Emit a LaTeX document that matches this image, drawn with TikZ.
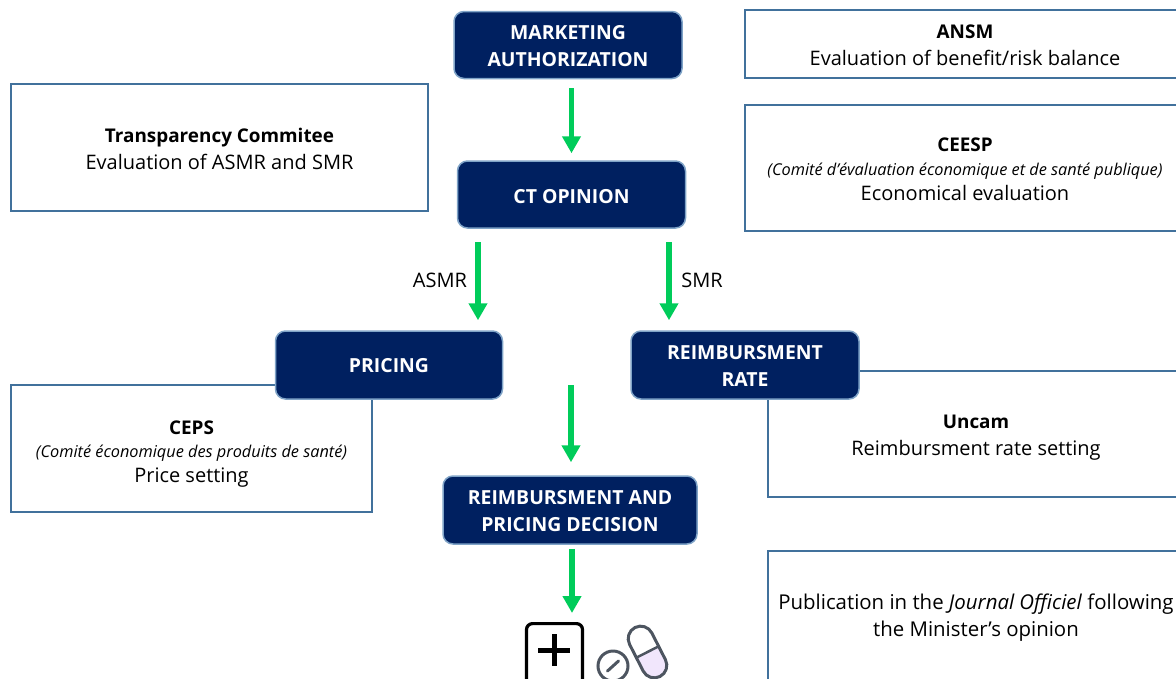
\documentclass[tikz,border=0pt]{standalone}
\usepackage{fontspec}
\setmainfont{Open Sans}
\usetikzlibrary{arrows.meta}
\definecolor{navy}{HTML}{002060}
\definecolor{edgeblue}{HTML}{41719C}
\definecolor{boxedge}{HTML}{7FA3C7}
\definecolor{arrowgreen}{HTML}{00CC5A}
\definecolor{pillgray}{HTML}{4D5560}
\definecolor{lav}{HTML}{F1E6FC}
\newcommand{\bodyfs}{\fontsize{20}{27}\selectfont}
\newcommand{\pubfs}{\fontsize{20.4}{27}\selectfont}
\newcommand{\smallfs}{\fontsize{16.3}{20}\selectfont\itshape}
\newcommand{\headfs}{\fontsize{18.9}{27}\selectfont\bfseries}
\newcommand{\tg}[1]{\rule{0pt}{#1pt}}
\tikzset{
  px/.style={x=1pt,y=-1pt},
  stage/.style={draw=boxedge,line width=1.5pt,fill=navy,rounded corners=10pt,text=white,align=center,inner sep=0pt,
    font=\fontsize{19.4}{27}\selectfont\bfseries},
  info/.style={draw=edgeblue,line width=1.4pt,fill=white,align=center,inner sep=0pt,text=black,font=\bodyfs},
  flow/.style={draw=arrowgreen,line width=5.5pt,-{Triangle[length=17pt,width=18pt]}},
  edgelabel/.style={font=\bodyfs,inner sep=0pt},
  pillline/.style={draw=pillgray,line width=3pt,line cap=round},
}
\begin{document}
\begin{tikzpicture}[px]
\useasboundingbox (0,0) rectangle (1176,678);
\clip (0,0) rectangle (1176,678);
% information boxes
\node[info,minimum width=440pt,minimum height=68pt] (ansm) at (965,44) {\tg{16}{\headfs ANSM}\\Evaluation of benefit/risk balance};
\node[info,minimum width=440pt,minimum height=126pt] (ceesp) at (965,168) {\tg{16}{\headfs CEESP}\\[-3pt]{\smallfs (Comité d’évaluation économique et de santé publique)}\\[-2pt]Economical evaluation};
\node[info,minimum width=417pt,minimum height=127pt] (ct-info) at (219.5,147.5) {\tg{18}{\headfs Transparency Commitee}\\Evaluation of ASMR and SMR};
\node[info,minimum width=361pt,minimum height=127pt] (ceps) at (191.5,448.5) {\tg{25}{\headfs CEPS}\\[-4pt]{\smallfs (Comité économique des produits de santé)}\\[-2pt]Price setting};
\node[info,minimum width=416pt,minimum height=126pt] (uncam) at (976,434) {\tg{21}{\headfs Uncam}\\Reimbursment rate setting};
\node[info,minimum width=416pt,minimum height=130pt,font=\pubfs] (pub) at (976,616) {\tg{18}Publication in the \textit{Journal Officiel} following\\the Minister’s opinion};
% stages
\node[stage,minimum width=228pt,minimum height=67pt] (ma) at (568,45) {\tg{16}MARKETING\\AUTHORIZATION};
\node[stage,minimum width=228pt,minimum height=67pt] (ct) at (571.5,194.5) {\tg{18}CT OPINION};
\node[stage,minimum width=227pt,minimum height=68pt] (pricing) at (389,365) {\tg{16}PRICING};
\node[stage,minimum width=228pt,minimum height=68pt] (reimb) at (745,365) {\tg{15}REIMBURSMENT\\RATE};
\node[stage,minimum width=254pt,minimum height=68pt] (decision) at (570,510) {\tg{16}REIMBURSMENT AND\\PRICING DECISION};
% icon
\node[draw=black,line width=3.2pt,rounded corners=6pt,minimum width=56pt,minimum height=70pt,inner sep=0pt,anchor=north] (plusbox) at (554.5,622) {};
\draw[line width=5pt,black] (538,650) -- (570,650) (554,634) -- (554,666);
\node[circle,pillline,minimum size=30pt,inner sep=0pt] (tablet) at (613,666) {};
\draw[pillline] (607.5,671) -- (618.5,661);
\begin{scope}[shift={(647.5,652)},rotate=27]
  \fill[lav] (-12.5,0) -- (12.5,0) -- (12.5,15) arc[start angle=0,end angle=-180,radius=12.5,y radius=-12.5] -- cycle;
  \draw[pillline] (-12.5,-15) arc[start angle=180,end angle=0,radius=12.5,y radius=-12.5] -- (12.5,15) arc[start angle=0,end angle=-180,radius=12.5,y radius=-12.5] -- cycle;
  \draw[pillline,line cap=butt,line width=2.5pt] (-12.5,0) -- (12.5,0);
\end{scope}
\coordinate (icontop) at (572,622);
\coordinate (midstart) at (571,385);
% arrows
\draw[flow,shorten <=9pt,shorten >=7pt] (ct.north |- ma.south) -- (ct.north);
\draw[flow,shorten <=13.5pt,shorten >=10pt] (ct.south -| 478,0) -- (pricing.north -| 478,0);
\draw[flow,shorten <=13.5pt,shorten >=10pt] (ct.south -| 669,0) -- (reimb.north -| 669,0);
\draw[flow,shorten >=13pt] (midstart) -- (decision.north -| midstart);
\draw[flow,shorten <=4pt,shorten >=9pt] (decision.south -| 572,0) -- (icontop);
\node[edgelabel] (lasmr) at (440,280.5) {ASMR};
\node[edgelabel] (lsmr) at (702,280.5) {SMR};
\end{tikzpicture}
\end{document}
